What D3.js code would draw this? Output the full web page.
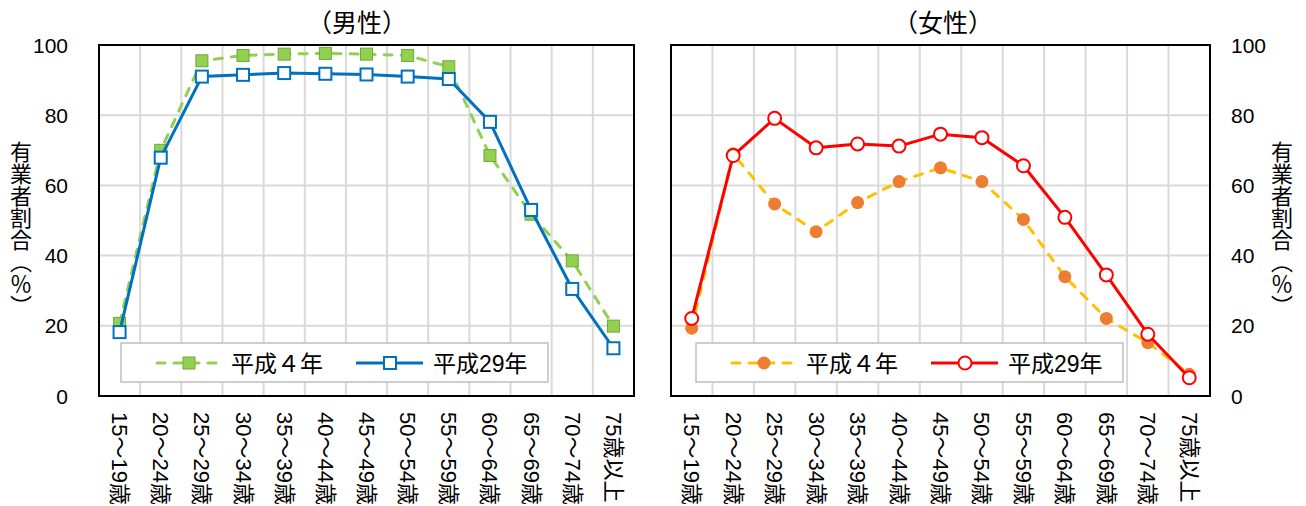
<!DOCTYPE html>
<html>
<head>
<meta charset="utf-8">
<script src="https://cdn.jsdelivr.net/npm/d3@7"></script>
<style>
  body { margin: 0; background: #fff; }
  text { font-family: 'Liberation Sans', 'Noto Sans CJK JP', sans-serif; fill: #000; }
</style>
</head>
<body>
<svg id="canvas"></svg>
<script>
var w = 1306;
var h = 506;

var ages = ["15～19歳","20～24歳","25～29歳","30～34歳","35～39歳","40～44歳","45～49歳",
            "50～54歳","55～59歳","60～64歳","65～69歳","70～74歳","75歳以上"];
var yTicks = [0, 20, 40, 60, 80, 100];
var seriesNames = ["平成４年", "平成29年"];

var maleH4  = [20.7, 70.0, 95.5, 97.0, 97.4, 97.6, 97.4, 97.0, 93.8, 68.5, 51.8, 38.5, 19.9];
var maleH29 = [18.2, 67.9, 91.0, 91.5, 92.0, 91.8, 91.6, 91.0, 90.3, 78.1, 53.0, 30.5, 13.6];
var femH4   = [19.3, 69.0, 54.7, 46.8, 55.1, 61.1, 65.0, 61.1, 50.3, 34.0, 22.1, 15.2, 6.2];
var femH29  = [22.1, 68.5, 79.1, 70.7, 71.8, 71.2, 74.6, 73.6, 65.6, 50.9, 34.5, 17.6, 5.2];

var svg = d3.select("#canvas").attr("width", w).attr("height", h);

var yTop = 45, yBot = 396;
var y = d3.scaleLinear().domain([0, 100]).range([yBot, yTop]);

function drawMarker(g, kind, col, cx, cy) {
  if (kind == "sqFill") {
    g.append("rect").attr("x", cx - 6).attr("y", cy - 6).attr("width", 12).attr("height", 12)
      .attr("fill", "#92d050").attr("stroke", "#6fa83c").attr("stroke-width", 1);
  } else if (kind == "sqOpen") {
    g.append("rect").attr("x", cx - 6).attr("y", cy - 6).attr("width", 12).attr("height", 12)
      .attr("fill", "#fff").attr("stroke", col).attr("stroke-width", 2);
  } else if (kind == "cirFill") {
    g.append("circle").attr("cx", cx).attr("cy", cy).attr("r", 6.5).attr("fill", "#ed7d31");
  } else {
    g.append("circle").attr("cx", cx).attr("cy", cy).attr("r", 6.5)
      .attr("fill", "#fff").attr("stroke", col).attr("stroke-width", 2);
  }
}

function drawPanel(cfg) {
  var g = svg.append("g");
  var x = d3.scaleBand().domain(ages).range([cfg.x0, cfg.x1]).padding(0);
  var cx = d => x(d) + x.bandwidth() / 2;

  // grid
  g.selectAll(".hg").data(yTicks.slice(1, -1)).enter().append("line")
    .attr("x1", cfg.x0).attr("x2", cfg.x1).attr("y1", d => y(d)).attr("y2", d => y(d))
    .attr("stroke", "#d9d9d9").attr("stroke-width", 2);
  g.selectAll(".vg").data(ages.slice(1)).enter().append("line")
    .attr("x1", d => x(d)).attr("x2", d => x(d)).attr("y1", yTop).attr("y2", yBot)
    .attr("stroke", "#d9d9d9").attr("stroke-width", 2);

  // series
  var line = d3.line().x((d, i) => cx(ages[i])).y(d => y(d));
  cfg.series.forEach(function (s) {
    g.append("path").attr("d", line(s.values)).attr("fill", "none")
      .attr("stroke", s.line).attr("stroke-width", 3)
      .attr("stroke-dasharray", s.dash ? "8,9" : null)
      .attr("stroke-linecap", s.dash ? "round" : "butt")
      .attr("stroke-linejoin", "round");
    s.values.forEach((v, i) => drawMarker(g, s.marker, s.line, cx(ages[i]), y(v)));
  });

  // border
  g.append("rect").attr("x", cfg.x0).attr("y", yTop)
    .attr("width", cfg.x1 - cfg.x0).attr("height", yBot - yTop)
    .attr("fill", "none").attr("stroke", "#000").attr("stroke-width", 2);

  // y tick labels
  g.selectAll(".yt").data(yTicks).enter().append("text")
    .attr("x", cfg.tickX).attr("y", d => y(d))
    .attr("text-anchor", cfg.tickAnchor).attr("dominant-baseline", "central")
    .style("font-size", "21px").text(d => d);

  // y title
  g.append("text").attr("x", cfg.titleX).attr("y", 229)
    .attr("text-anchor", "middle").style("writing-mode", "vertical-rl")
    .style("font-size", "22px").style("font-family", "'Noto Sans CJK JP'")
    .text("有業者割合（％）");

  // x labels
  g.selectAll(".xl").data(ages).enter().append("text")
    .attr("transform", d => "translate(" + cx(d) + ",412) rotate(90)")
    .attr("text-anchor", "start").attr("dominant-baseline", "central")
    .style("font-size", "22px").text(d => d);

  // title
  g.append("text").attr("x", cfg.headX).attr("y", 32).attr("text-anchor", "middle")
    .style("font-size", "25px").style("font-family", "'Noto Sans CJK JP'").text(cfg.head);

  // legend
  var lg = g.append("g").attr("transform", "translate(" + cfg.legX + ",343)");
  lg.append("rect").attr("width", 427).attr("height", 39)
    .attr("fill", "#fff").attr("stroke", "#bfbfbf").attr("stroke-width", 1.5);
  var offs = [[36, 100, 68, 110], [235, 302, 269, 312]];
  cfg.series.forEach(function (s, i) {
    var o = offs[i];
    lg.append("line").attr("x1", o[0]).attr("x2", o[1]).attr("y1", 20).attr("y2", 20)
      .attr("stroke", s.line).attr("stroke-width", 3)
      .attr("stroke-dasharray", s.dash ? "8,9" : null)
      .attr("stroke-linecap", s.dash ? "round" : "butt");
    drawMarker(lg, s.marker, s.line, o[2], 20);
    lg.append("text").attr("x", o[3]).attr("y", 21).attr("dominant-baseline", "central")
      .style("font-size", "23px").text(seriesNames[i]);
  });
}

drawPanel({
  x0: 99, x1: 634, tickX: 68, tickAnchor: "end", titleX: 21, headX: 357, head: "（男性）", legX: 121,
  series: [
    { values: maleH4, line: "#92d050", dash: true, marker: "sqFill" },
    { values: maleH29, line: "#0070c0", dash: false, marker: "sqOpen" }
  ]
});
drawPanel({
  x0: 671, x1: 1210, tickX: 1231, tickAnchor: "start", titleX: 1282, headX: 943, head: "（女性）", legX: 696,
  series: [
    { values: femH4, line: "#ffc000", dash: true, marker: "cirFill" },
    { values: femH29, line: "#ff0000", dash: false, marker: "cirOpen" }
  ]
});
</script>
</body>
</html>
